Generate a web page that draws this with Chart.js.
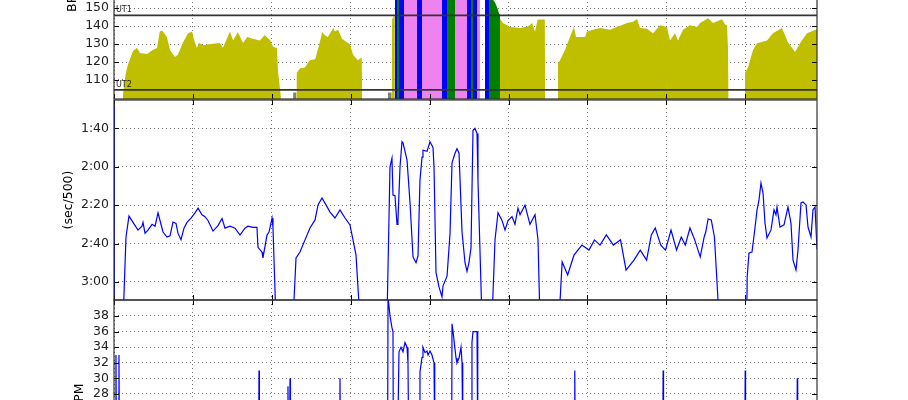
<!DOCTYPE html>
<html>
<head>
<meta charset="utf-8">
<script src="https://cdn.jsdelivr.net/npm/chart.js@4.4.1/dist/chart.umd.min.js"></script>
<style>
  html, body { margin: 0; padding: 0; background: #fff; overflow: hidden; width: 908px; height: 400px; position: relative; }
  canvas { position: absolute; left: 0; }
</style>
</head>
<body>
<canvas id="chartHr" width="908" height="203" style="top:-103px"></canvas>
<canvas id="chartPace" width="908" height="203" style="top:99px"></canvas>
<canvas id="chartSpm" width="908" height="200" style="top:299px"></canvas>
<script>
// eje x en minutos
const xMax = 89.1;
const xTicks = [0, 10, 20, 30, 40, 50, 60, 70, 80];

// zonas de pulso
const zoneLimits = { ut2: 104.5, ut1: 146, at: 160, tr: 170 };
const zoneColors = { below: "#808080", ut2: "#bfbf00", ut1: "#008000", at: "#0000ff", tr: "#ee82ee" };

// pulso (BPM)
const hrTime = [
  1.1, 1.5, 1.8, 2.4, 2.9, 3.3, 4.2, 4.9, 5.45, 5.8, 6.1, 6.7, 7.1, 7.7, 8.1, 8.75, 9.4, 9.9, 10.1, 10.5,
  10.8, 11.3, 12.2, 13.4, 13.8, 14.7, 15.1, 15.7, 16.35, 16.9, 17.6, 18.5, 19.1, 19.8, 20.15, 20.65, 20.8, 21.15, 21.2,
  22.7, 23.1, 23.15, 23.6, 24.2, 24.8, 25.5, 25.9, 26.4, 26.7, 27.1, 27.8, 28.0, 28.4, 28.9, 29.5, 29.9, 30.3, 30.9, 31.4, 31.45, 31.5,
  34.7, 35.2, 35.25, 35.6, 35.6, 35.87, 35.87, 36.12, 36.12, 36.76, 36.76, 38.4, 38.4, 39.04, 39.04, 41.57, 41.57, 42.21,
  42.21, 43.22, 43.22, 44.74, 44.74, 45.25, 45.25, 45.5, 45.5, 46.01, 46.01, 46.39, 46.45,
  47.02, 47.53, 47.53, 48.0, 48.3, 48.6, 48.8, 48.92, 48.92, 49.3, 50.2, 51.5, 52.5, 53.0, 53.36, 53.7, 54.6, 54.65, 54.7,
  56.27, 56.53, 57.16, 57.79, 58.3, 58.56, 59.7, 59.95, 60.71, 61.6, 62.86, 63.75, 65.02, 65.78, 66.29, 66.67, 67.55, 68.31,
  69.2, 70.09, 70.47, 71.1, 71.48, 72.12, 73.0, 73.89, 74.27, 75.29, 75.92, 77.06, 77.44, 77.69, 77.82, 77.9, 77.95,
  79.97, 80.35, 80.99, 81.5, 82.76, 83.52, 84.66, 85.42, 86.31, 86.95, 87.83, 89.1
];
const hrBpm = [
  101, 114, 119, 126, 128, 125, 124.5, 126.7, 127.8, 137, 137.5, 134, 126.7, 122.8, 124, 131, 136, 137, 133, 128,
  130.6, 129.4, 130, 130.6, 128, 137, 132, 136.7, 130.6, 134, 133, 132, 135, 132, 128.5, 127.8, 114, 101, null,
  103, 103, 114, 116.5, 117, 121, 121.5, 128, 136.7, 135, 134, 139, 137, 138, 133, 131, 130, 124, 121, 122.5, 100, null,
  103, 103, 144, 146, 165, 165, 156, 156, 165, 165, 178, 178, 165, 165, 178, 178, 165, 165,
  156, 156, 178, 178, 165, 165, 156, 156, 165, 165, 178, 178, null,
  165, 165, 157, 155, 153, 150, 147, 146.2, 144, 141.7, 139.5, 139, 140, 141.7, 137, 143.7, 143.7, 100, null,
  119.4, 121, 126.7, 134, 139.5, 134, 134, 137, 138, 139, 138, 139.5, 141.7, 142.5, 144, 139, 138.5, 136,
  140.5, 139.5, 132, 136, 132, 138, 140.5, 139.5, 141.7, 144.4, 141.7, 143.8, 141, 140.5, 128, 100, null,
  114, 117, 126.7, 130.5, 132, 136, 139, 131, 125.6, 130.5, 136, 138.3
];
const hrTicks = [110, 120, 130, 140, 150, 160, 170, 180, 190, 200];

// ritmo (segundos por 500 m)
const paceTime = [
  0, 0.05, 1.15, 1.52, 1.9, 2.41, 3.04, 3.55, 3.68, 3.93, 4.31, 4.82, 5.2, 5.58, 5.83, 6.21, 6.72, 7.1, 7.48, 7.86,
  8.11, 8.49, 8.87, 9.25, 9.76, 10.27, 10.65, 11.15, 11.53, 11.91, 12.55, 13.18, 13.69, 14.07, 14.7, 15.34, 15.97, 16.6,
  16.98, 17.62, 18.12, 18.25, 18.76, 18.88, 19.39, 19.65, 20.03, 20.15, 20.53,
  22.69, 23.07, 23.57, 24.21, 24.84, 25.48, 25.86, 26.36, 26.87, 27.38, 28.01, 28.64, 29.28, 29.91, 30.29, 30.67, 31.18,
  34.6, 34.98, 35.23, 35.36, 35.61, 35.87, 35.99, 36.25, 36.5, 36.63, 37.14, 37.52, 37.9, 38.28, 38.53, 38.78, 39.04,
  39.16, 39.67, 40.05, 40.43, 40.56, 40.81, 41.19, 41.57, 41.7, 42.21, 42.59, 42.84, 43.22, 43.47, 43.73, 44.11, 44.49,
  44.74, 44.99, 45.25, 45.5, 45.75, 46.01, 46.13, 46.64,
  47.91, 48.29, 48.67, 49.18, 49.56, 49.94, 50.44, 50.82, 51.2, 51.46, 52.09, 52.72, 53.36, 53.74, 53.99,
  56.4, 56.8, 57.5, 58.3, 59.3, 60.2, 60.9, 61.6, 62.4, 63.3, 64.2, 64.9, 65.9, 66.7, 67.5, 68.1, 68.6, 69.3, 69.9, 70.6,
  71.3, 71.9, 72.4, 73.0, 73.6, 74.3, 74.8, 75.0, 75.3, 75.7, 76.1, 76.7, 77.1, 77.3,
  80.2, 80.25, 80.48, 80.86, 81.24, 81.5, 81.75, 82.0, 82.26, 82.51, 82.76, 83.27, 83.65, 83.9, 84.03, 84.41, 84.92,
  85.42, 85.8, 86.06, 86.44, 86.69, 87.07, 87.33, 87.71, 87.96, 88.34, 88.59, 88.85, 89.1
];
const paceSec = [
  80, 200, 200, 156.6, 145.7, 149, 153, 151, 149, 154.6, 153, 150, 151, 144, 148, 154, 156.6, 156, 148.8, 149.5,
  154.6, 158, 152, 149, 146.8, 144, 141.6, 145, 146, 148, 153.5, 150.7, 147, 152, 151, 152, 155.6, 152,
  151, 151.6, 151.6, 162, 164.5, 167.5, 155.6, 154, 146.8, 151.6, 200,
  200, 167.5, 164.4, 158.1, 151.9, 147.7, 139.9, 136.3, 139.9, 143.6, 146.7, 142.5, 146.7, 150.3, 158.1, 165.9, 200,
  200, 120, 115.6, 134.8, 135, 150, 148, 120, 107, 107.6, 116.6, 139, 167, 170, 166.5, 127, 115,
  111.4, 112, 107, 110, 120, 175, 182.6, 187.8, 182, 177, 154.7, 118, 113, 110.6, 113, 154, 170,
  174.5, 170, 162, 101, 100, 102.7, 127, 200,
  200, 158, 144, 148, 153, 148, 146, 150, 141.6, 145, 140, 150, 145, 158, 200,
  200, 169.6, 176.4, 166, 160.8, 163.4, 158.1, 160.8, 155.5, 160.8, 158.1, 173.8, 168.6, 163.4, 168.6, 155.5, 151.9, 160.8, 163.4, 153,
  163.4, 156.6, 160.8, 151.9, 158.1, 167, 156.6, 154, 147.2, 147.7, 156.6, 200, 200, 200,
  200, 177.4, 164.9, 164.4, 151.9, 142.5, 137.3, 128.5, 133.7, 149.3, 157.1, 152.9, 142.5, 145.1, 141, 151.4, 150.3,
  141, 149.3, 168.6, 173.8, 163.4, 138.9, 138.4, 139.9, 151.4, 156.6, 142.5, 141, 163
];
const paceTicks = [100, 120, 140, 160, 180];

// paladas por minuto
const spmTime = [
  0, 0.2, 0.25, 0.3, 0.58, 0.63, 0.68, 18.33, 18.38, 18.43, 22.0, 22.05, 22.1, 22.26, 22.31, 22.36, 28.6, 28.64, 28.7,
  34.68, 34.73, 34.98, 35.23, 35.36, 35.4, 35.95, 36.12, 36.38, 36.63, 36.88, 37.14, 37.26, 37.35,
  38.7, 38.78, 39.04, 39.16, 39.42, 39.67, 39.8, 40.05, 40.3, 40.56, 40.65,
  42.8, 42.84, 42.97, 43.35, 43.47, 43.73, 43.98, 44.11, 44.2, 45.3, 45.37, 45.5, 45.88, 46.01, 46.1,
  58.35, 58.4, 58.45, 69.55, 69.6, 69.65, 79.95, 80.0, 80.05, 86.55, 86.6, 86.65, 89.1
];
const spmValue = [
  22, 22, 33, 22, 22, 33, 22, 22, 31, 22, 22, 29, 22, 22, 30, 22, 22, 30, 22,
  22, 40.5, 38, 36.5, 36, 22, 22, 33.4, 34, 33.4, 34.6, 34, 32, 22,
  22, 30.8, 32.7, 34, 33.3, 33.5, 33, 33.5, 33, 32, 22,
  22, 37, 36, 32.6, 32, 32.6, 34, 32, 22, 22, 34.6, 36, 36, 36, 22,
  22, 31, 22, 22, 31, 22, 22, 31, 22, 22, 30, 22, 22
];
const spmTicks = [16, 18, 20, 22, 24, 26, 28, 30, 32, 34, 36, 38];

const toPoints = (xs, ys) => xs.map((x, i) => ({ x, y: ys[i] }));

const zoneOf = (v) => {
  if (v < zoneLimits.ut2) return zoneColors.below;
  if (v < zoneLimits.ut1) return zoneColors.ut2;
  if (v < zoneLimits.at) return zoneColors.ut1;
  if (v < zoneLimits.tr) return zoneColors.at;
  return zoneColors.tr;
};

const fmtPace = (v) => Math.floor(v / 60) + ":" + String(v % 60).padStart(2, "0");

const FONT = "'DejaVu Sans', sans-serif";

//Marco y ticks hacia dentro, como matplotlib
const framePlugin = {
  id: "frame",
  afterDraw(chart) {
    const { ctx, chartArea: a, scales } = chart;
    ctx.save();
    ctx.strokeStyle = "#000";
    ctx.lineWidth = 1;
    const seg = (x1, y1, x2, y2) => { ctx.beginPath(); ctx.moveTo(x1, y1); ctx.lineTo(x2, y2); ctx.stroke(); };
    scales.x.ticks.forEach((t) => {
      const px = Math.round(scales.x.getPixelForValue(t.value)) + 0.5;
      seg(px, a.bottom, px, a.bottom - 5);
      seg(px, a.top, px, a.top + 5);
    });
    scales.y.ticks.forEach((t) => {
      const py = Math.round(scales.y.getPixelForValue(t.value)) + 0.5;
      if (py < a.top || py > a.bottom) return;
      seg(a.left, py, a.left + 5, py);
      seg(a.right, py, a.right - 5, py);
    });
    ctx.strokeStyle = "#333";
    ctx.lineWidth = 1.2;
    ctx.strokeRect(a.left, a.top, a.width, a.height);
    ctx.restore();
  },
};

//Textos de las zonas UT1 / UT2
const zoneLabelPlugin = {
  id: "zoneLabels",
  afterDatasetsDraw(chart) {
    const { ctx, scales } = chart;
    ctx.save();
    ctx.font = "8px " + FONT;
    ctx.fillStyle = "#222";
    ctx.textAlign = "left";
    ctx.textBaseline = "bottom";
    const left = scales.x.getPixelForValue(0) + 2;
    ctx.fillText("UT1", left, scales.y.getPixelForValue(zoneLimits.ut1) - 1);
    ctx.fillText("UT2", left, scales.y.getPixelForValue(zoneLimits.ut2) - 1);
    ctx.restore();
  },
};

const xScale = () => ({
  type: "linear",
  min: 0,
  max: xMax,
  z: 1,
  ticks: { display: false },
  grid: { color: "#777", lineWidth: 1, drawTicks: false },
  border: { display: false, dash: [1, 3] },
  afterBuildTicks: (s) => { s.ticks = xTicks.map((v) => ({ value: v })); },
  afterFit: (s) => { s.height = 0; s.paddingLeft = 0; s.paddingRight = 0; },
});

const yScale = (cfg) => ({
  type: "linear",
  min: cfg.min,
  max: cfg.max,
  reverse: !!cfg.reverse,
  z: 1,
  title: { display: true, text: cfg.title, color: "#000", font: { family: FONT, size: 12.5, lineHeight: 1.2 }, padding: 0 },
  ticks: {
    color: "#222",
    padding: 5,
    autoSkip: false,
    font: { family: FONT, size: 12.5 },
    callback: cfg.format || ((v) => v),
  },
  grid: { color: "#777", lineWidth: 1, drawTicks: false },
  border: { display: false, dash: [1, 3] },
  afterBuildTicks: (s) => { s.ticks = cfg.ticks.map((v) => ({ value: v })); },
  afterFit: (s) => { s.width = 114 - cfg.left; s.paddingTop = 0; s.paddingBottom = 0; },
});

const baseOptions = (cfg) => ({
  responsive: false,
  animation: false,
  events: [],
  layout: { padding: { left: cfg.left, right: 91, top: cfg.top, bottom: cfg.bottom } },
  plugins: { legend: { display: false }, tooltip: { enabled: false } },
  scales: { x: xScale(), y: yScale(cfg) },
});

//Grafico de pulso
new Chart(document.getElementById("chartHr"), {
  type: "line",
  data: {
    datasets: [
      {
        data: [{ x: 0, y: zoneLimits.ut1 }, { x: xMax, y: zoneLimits.ut1 }],
        borderColor: "#333", borderWidth: 1.6, pointRadius: 0, fill: false, order: 1,
      },
      {
        data: [{ x: 0, y: zoneLimits.ut2 }, { x: xMax, y: zoneLimits.ut2 }],
        borderColor: "#333", borderWidth: 1.6, pointRadius: 0, fill: false, order: 1,
      },
      {
        data: toPoints(hrTime, hrBpm),
        borderColor: "rgba(0,0,0,0)",
        borderWidth: 0,
        backgroundColor: zoneColors.ut2,
        pointRadius: 0,
        tension: 0,
        spanGaps: false,
        fill: "start",
        order: 2,
        segment: {
          backgroundColor: (c) => zoneOf((c.p0.parsed.y + c.p1.parsed.y) / 2),
        },
      },
    ],
  },
  options: baseOptions({ left: 65, top: 1, bottom: 1, min: 99.4, max: 211.4, ticks: hrTicks, title: "BPM" }),
  plugins: [framePlugin, zoneLabelPlugin],
});

//Grafico de ritmo
new Chart(document.getElementById("chartPace"), {
  type: "line",
  data: {
    datasets: [{
      data: toPoints(paceTime, paceSec),
      borderColor: "#0000ff",
      borderWidth: 1.2,
      pointRadius: 0,
      tension: 0,
      fill: false,
    }],
  },
  options: baseOptions({ left: 61, top: 1, bottom: 2, min: 85.27, max: 189.4, reverse: true, ticks: paceTicks, title: "(sec/500)", format: fmtPace }),
  plugins: [framePlugin],
});

//Grafico de paladas
new Chart(document.getElementById("chartSpm"), {
  type: "line",
  data: {
    datasets: [{
      data: toPoints(spmTime, spmValue),
      borderColor: "#0000ff",
      borderWidth: 1.2,
      pointRadius: 0,
      tension: 0,
      fill: false,
    }],
  },
  options: baseOptions({ left: 72, top: 1, bottom: 6, min: 15.3, max: 40.05, ticks: spmTicks, title: "SPM" }),
  plugins: [framePlugin],
});
</script>
</body>
</html>
